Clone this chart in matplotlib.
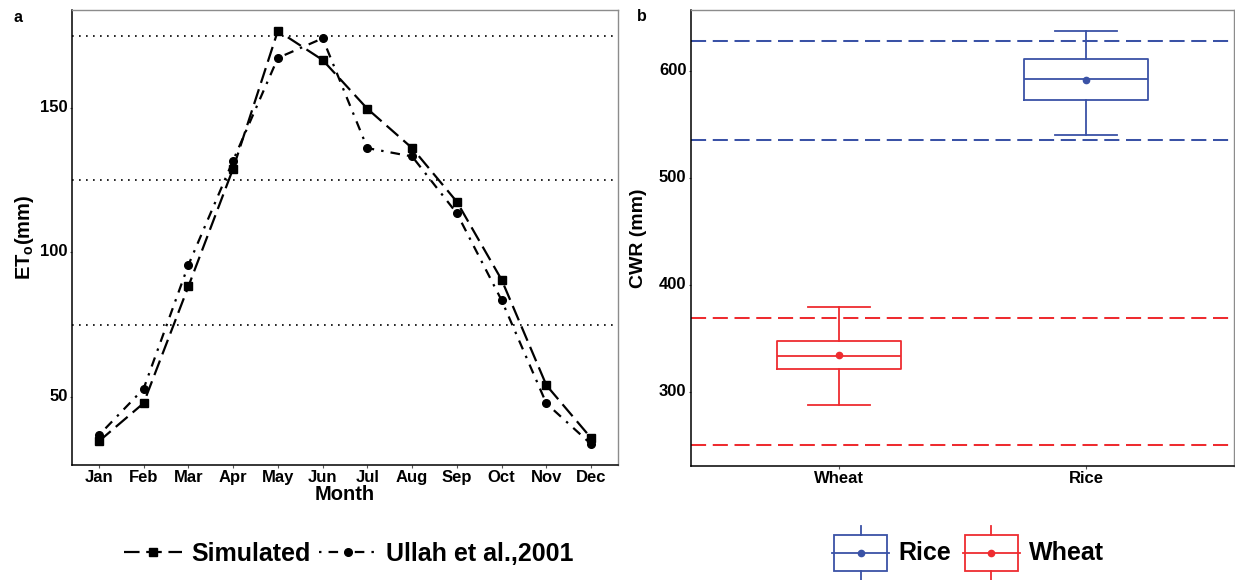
import matplotlib
matplotlib.use("Agg")
import matplotlib.pyplot as plt
import matplotlib.transforms as mtransforms
from matplotlib.lines import Line2D
from matplotlib.patches import Rectangle
from matplotlib.legend_handler import HandlerBase

plt.rcParams['font.family'] = ['Liberation Sans', 'DejaVu Sans']
plt.rcParams['font.weight'] = 'bold'
plt.rcParams['mathtext.fontset'] = 'custom'
plt.rcParams['mathtext.bf'] = 'Liberation Sans:bold'
plt.rcParams['mathtext.rm'] = 'Liberation Sans'

# ---- panel a: monthly reference evapotranspiration ----
months = ['Jan', 'Feb', 'Mar', 'Apr', 'May', 'Jun',
          'Jul', 'Aug', 'Sep', 'Oct', 'Nov', 'Dec']
eto_simulated = [34.6, 47.8, 88.2, 129.0, 176.7, 166.6,
                 149.7, 136.1, 117.5, 90.5, 54.0, 35.7]
eto_ullah = [36.7, 52.8, 95.6, 131.8, 167.3, 174.1,
             136.1, 133.2, 113.5, 83.4, 47.7, 33.6]
eto_guides = [75, 125, 175]
eto_ticks = [50, 100, 150]

# ---- panel b: crop water requirement ----
crops = ['Wheat', 'Rice']
crop_colors = ['#EE2C30', '#3A52A6']
cwr_whislo = [287.5, 540.3]
cwr_q1 = [321.5, 573.0]
cwr_median = [333.7, 592.7]
cwr_q3 = [348.0, 611.4]
cwr_whishi = [379.8, 637.8]
cwr_mean = [334.3, 591.7]
cwr_bounds = [[250.0, 369.0], [535.5, 628.0]]
cwr_ticks = [300, 400, 500, 600]

W, H = 1235, 580
fig = plt.figure(figsize=(W / 100, H / 100), dpi=100)


def px_axes(x0, y0, x1, y1):
    return fig.add_axes([x0 / W, 1 - y1 / H, (x1 - x0) / W, (y1 - y0) / H])


def style_frame(ax):
    for side in ('top', 'right'):
        ax.spines[side].set_color('#8c8c8c')
        ax.spines[side].set_linewidth(1.0)
    for side in ('left', 'bottom'):
        ax.spines[side].set_color('black')
        ax.spines[side].set_linewidth(1.1)
    ax.tick_params(axis='both', length=1.8, width=0.8, color='#555555',
                   labelsize=12, pad=1.5, labelcolor='black')
    shift = mtransforms.ScaledTranslation(0, 2 / 100, fig.dpi_scale_trans)
    for lab in ax.get_yticklabels():
        lab.set_transform(lab.get_transform() + shift)
        lab.set_fontweight('bold')
    for lab in ax.get_xticklabels():
        lab.set_fontweight('bold')


# panel a
ax1 = px_axes(72, 10, 618, 465)
x = list(range(1, len(months) + 1))
for g in eto_guides:
    ax1.axhline(g, color='black', lw=1.2, linestyle=(0, (1, 3.2)), zorder=1)
line_sim, = ax1.plot(x, eto_simulated, color='black', lw=1.6,
                     linestyle=(0, (7, 3)), marker='s', ms=5.5, zorder=3)
line_ul, = ax1.plot(x, eto_ullah, color='black', lw=1.6,
                    linestyle=(0, (1.1, 3.2, 4.3, 3.2)), marker='o', ms=5.5,
                    zorder=3)
ax1.set_xlim(0.4, 12.6)
ax1.set_ylim(26.4, 183.9)
ax1.set_xticks(x, months)
ax1.set_yticks(eto_ticks)
style_frame(ax1)

fig.text(18.5 / W, 1 - 17.5 / H, 'a', fontsize=11.5, fontweight='bold',
         ha='center', va='center')
fig.text(25 / W, 1 - 237 / H, r'$\mathbf{ET}_{\mathrm{o}}\mathbf{(mm)}$',
         fontsize=14.5, rotation=90, ha='center', va='center')
fig.text(345 / W, 1 - 494 / H, 'Month', fontsize=14.5, fontweight='bold',
         ha='center', va='center')

fig.legend([line_sim, line_ul], ['Simulated', 'Ullah et al.,2001'],
           loc='center', bbox_to_anchor=(349 / W, 1 - 554 / H), ncol=2,
           frameon=False, prop={'size': 18, 'weight': 'bold'},
           handlelength=2.32, handletextpad=0.35, columnspacing=0.35,
           numpoints=1)

# panel b
ax2 = px_axes(691, 10, 1234, 466)
positions = [1, 2]
for bounds, c in zip(cwr_bounds, crop_colors):
    for b in bounds:
        ax2.axhline(b, color=c, lw=1.45, linestyle=(0, (7.5, 3.3)), zorder=1)

stats = []
for i, name in enumerate(crops):
    stats.append(dict(label=name, whislo=cwr_whislo[i], q1=cwr_q1[i],
                      med=cwr_median[i], q3=cwr_q3[i], whishi=cwr_whishi[i],
                      mean=cwr_mean[i], fliers=[]))
bp = ax2.bxp(stats, positions=positions, widths=0.5, capwidths=0.25,
             showmeans=True, showfliers=False, manage_ticks=False)
for i, c in enumerate(crop_colors):
    bp['boxes'][i].set(color=c, lw=1.3)
    bp['medians'][i].set(color=c, lw=1.3)
    bp['means'][i].set(marker='o', markerfacecolor=c, markeredgecolor=c,
                       markersize=4.5)
    for k in (2 * i, 2 * i + 1):
        bp['whiskers'][k].set(color=c, lw=1.3)
        bp['caps'][k].set(color=c, lw=1.3)
for art_list in bp.values():
    for a in art_list:
        a.set_zorder(3)

ax2.set_xlim(0.4, 2.6)
ax2.set_ylim(230.6, 657.2)
ax2.set_xticks(positions, crops)
ax2.set_yticks(cwr_ticks)
style_frame(ax2)

fig.text(642 / W, 1 - 16.7 / H, 'b', fontsize=11.5, fontweight='bold',
         ha='center', va='center')
fig.text(638.5 / W, 1 - 238 / H, 'CWR (mm)', fontsize=14, fontweight='bold',
         rotation=90, ha='center', va='center')


class BoxKey:
    def __init__(self, color):
        self.color = color


class BoxKeyHandler(HandlerBase):
    def create_artists(self, legend, orig_handle, xdescent, ydescent,
                       width, height, fontsize, trans):
        c = orig_handle.color
        x0, y0 = -xdescent, -ydescent
        cx = x0 + width / 2
        cy = y0 + height / 2
        lo = y0 + 0.17 * height
        hi = y0 + 0.83 * height
        lw = 1.3
        arts = [
            Line2D([cx, cx], [y0, lo], color=c, lw=lw, transform=trans),
            Line2D([cx, cx], [hi, y0 + height], color=c, lw=lw,
                   transform=trans),
            Rectangle((x0 + 0.02 * width, lo), 0.96 * width, hi - lo,
                      fill=False, edgecolor=c, lw=lw, transform=trans),
            Line2D([x0 - 0.02 * width, x0 + 1.02 * width], [cy, cy],
                   color=c, lw=lw, transform=trans),
            Line2D([cx], [cy], marker='o', ms=4.5, color=c, linestyle='none',
                   transform=trans),
        ]
        return arts


legend_order = ['Rice', 'Wheat']
legend_handles = [BoxKey(crop_colors[crops.index(n)]) for n in legend_order]
fig.legend(legend_handles, legend_order, loc='center',
           bbox_to_anchor=(968.5 / W, 1 - 553 / H), ncol=2, frameon=False,
           prop={'size': 18, 'weight': 'bold'},
           handler_map={BoxKey: BoxKeyHandler()},
           handlelength=2.2, handleheight=2.9, handletextpad=0.4,
           columnspacing=0.5, borderpad=0.1)

fig.savefig('out.png', dpi=100)
